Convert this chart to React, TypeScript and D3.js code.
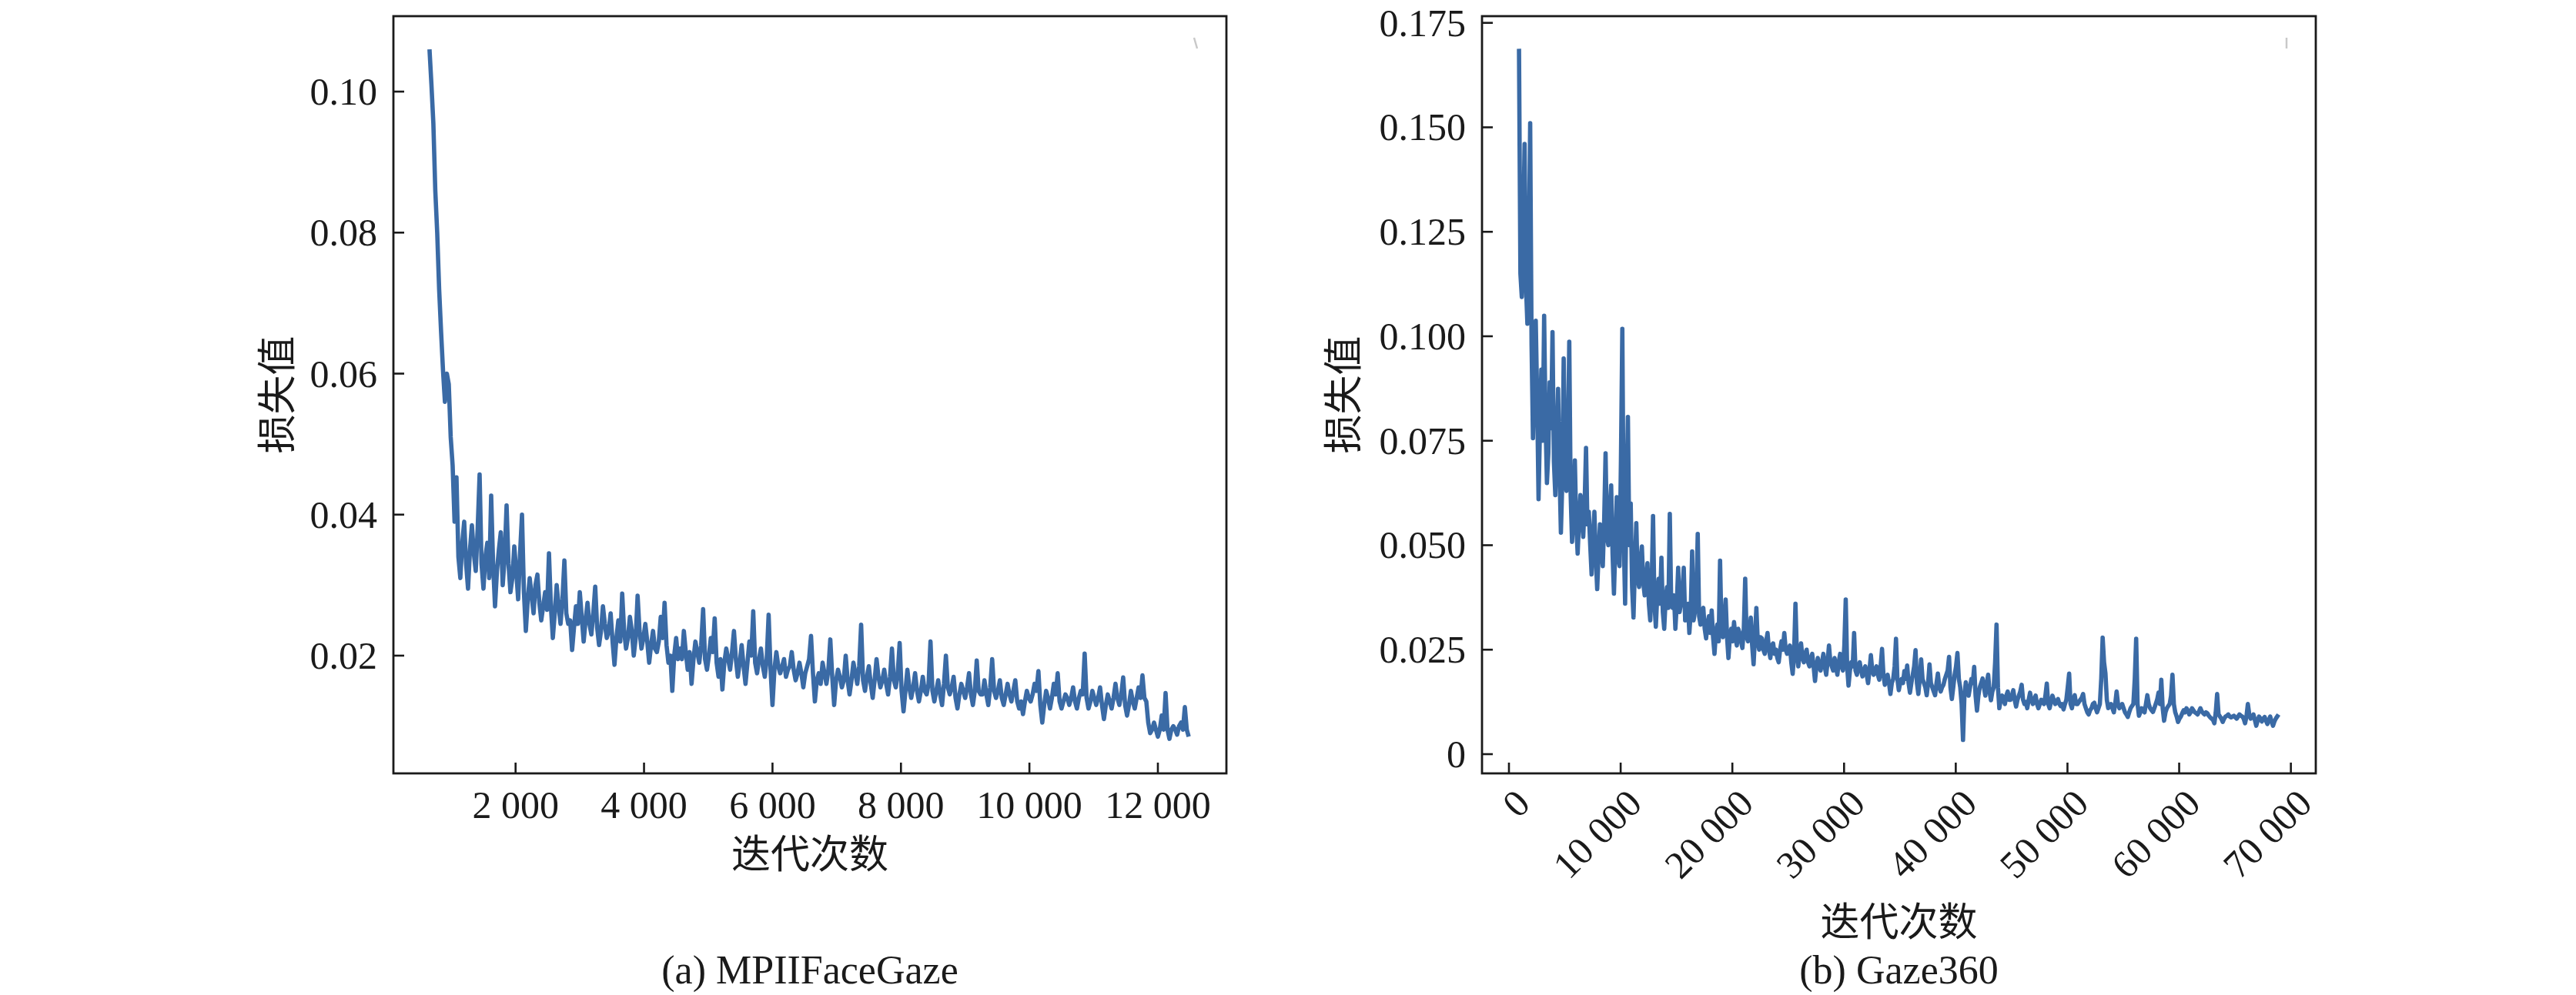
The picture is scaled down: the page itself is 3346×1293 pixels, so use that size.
import React from "react";
import * as d3 from "d3";

// ---------- DATA ----------
// (a) MPIIFaceGaze: loss recorded every 30 iterations starting at iteration 660
const mpiiStart = 660;
const mpiiStep = 30;
const mpiiLoss = [
  0.106, 0.101, 0.0955, 0.086, 0.080, 0.072, 0.066, 0.0605, 0.056, 0.060, 0.0585, 0.051, 0.047,
  0.039, 0.0453, 0.034, 0.031, 0.036, 0.039, 0.033, 0.0295, 0.035, 0.0385, 0.0345, 0.032, 0.038, 0.0457, 0.033, 0.0295,
  0.034, 0.036, 0.031, 0.0427, 0.033, 0.027, 0.032, 0.035, 0.0375, 0.030, 0.034, 0.0413, 0.033, 0.029, 0.031, 0.0355,
  0.032, 0.028, 0.0345, 0.040, 0.029, 0.0235,
  0.028, 0.031, 0.0285, 0.026, 0.030, 0.0315, 0.0275, 0.025, 0.027, 0.029, 0.0265, 0.0345, 0.027, 0.0225, 0.026,
  0.030, 0.027, 0.0245, 0.028, 0.0335, 0.026, 0.0245,
  0.025, 0.0208, 0.024, 0.027, 0.0245, 0.029, 0.0255, 0.022, 0.025, 0.0275, 0.0245, 0.023, 0.026, 0.0298, 0.024,
  0.0215, 0.0235, 0.027, 0.0245, 0.0225, 0.0235, 0.026, 0.022, 0.0187, 0.0225, 0.025, 0.022, 0.0288, 0.0235, 0.021,
  0.0225, 0.0255, 0.0235, 0.020, 0.0225, 0.0285, 0.0235, 0.021, 0.0225, 0.0245, 0.022, 0.019, 0.0215, 0.0235, 0.021,
  0.0205, 0.022, 0.0255, 0.0225, 0.0275, 0.0215, 0.019, 0.020, 0.015, 0.020, 0.0225,
  0.0195, 0.021, 0.0195, 0.0235, 0.0205, 0.018, 0.0205, 0.016, 0.0195, 0.022, 0.0205, 0.019, 0.0215, 0.0266, 0.0195,
  0.018, 0.020, 0.0225, 0.0205, 0.0253, 0.019, 0.017, 0.0195, 0.0152, 0.019, 0.021, 0.0195, 0.018, 0.0205, 0.0235,
  0.0195, 0.017, 0.019, 0.0215, 0.0185, 0.016, 0.019, 0.022, 0.020, 0.0263, 0.019, 0.0175, 0.0195, 0.021, 0.0185,
  0.017, 0.0195, 0.0258, 0.018, 0.013, 0.018, 0.0205, 0.0185, 0.0175,
  0.0185, 0.0195, 0.017, 0.018, 0.0185, 0.0205, 0.018, 0.0165, 0.0175, 0.019, 0.0175, 0.0155, 0.0175, 0.0185, 0.0195,
  0.0228, 0.0175, 0.0135, 0.0165, 0.0175,
  0.016, 0.019, 0.0175, 0.016, 0.018, 0.0223, 0.017, 0.013, 0.0165, 0.018, 0.017, 0.0155, 0.0165, 0.020, 0.0165,
  0.0145, 0.0165, 0.019, 0.0175, 0.016, 0.0185, 0.0244, 0.0165, 0.015, 0.017, 0.0185, 0.016, 0.014, 0.0165, 0.0195,
  0.017, 0.0155, 0.0165, 0.018, 0.016, 0.0145, 0.017, 0.021, 0.0165, 0.0155, 0.0175, 0.0218, 0.015, 0.0121, 0.015,
  0.018, 0.0155, 0.014, 0.0155, 0.0175, 0.015, 0.0135,
  0.015, 0.017, 0.015, 0.0145, 0.016, 0.022, 0.015, 0.0135, 0.015, 0.0165, 0.0145, 0.013, 0.016, 0.020, 0.0155,
  0.0145, 0.0155, 0.017, 0.014, 0.0125, 0.0145, 0.016, 0.015, 0.014, 0.0155, 0.0175, 0.0145, 0.013, 0.015, 0.0193,
  0.015, 0.0145, 0.0145, 0.0165, 0.0145, 0.013, 0.0155, 0.0195, 0.015, 0.014, 0.015, 0.0165, 0.014, 0.013, 0.0145,
  0.016, 0.0145, 0.0135, 0.015, 0.0165, 0.0135, 0.0125,
  0.0135, 0.0117, 0.0135, 0.015, 0.014, 0.0135, 0.0145, 0.016, 0.015, 0.0178, 0.013, 0.0105, 0.013, 0.015, 0.014,
  0.0125, 0.014, 0.016, 0.0145, 0.0175, 0.0135, 0.0125, 0.0135, 0.0145, 0.014, 0.013, 0.014, 0.0155, 0.0135, 0.0125,
  0.014, 0.015, 0.0145, 0.0203, 0.014, 0.0125, 0.0135, 0.015, 0.014, 0.013, 0.014, 0.0155, 0.013, 0.011, 0.013,
  0.0145, 0.0135, 0.0125, 0.014, 0.016, 0.014, 0.013, 0.0145, 0.0169, 0.013, 0.0115, 0.013, 0.015, 0.0135, 0.0125,
  0.014, 0.0155, 0.014, 0.0172,
  0.014, 0.0135, 0.0105, 0.009, 0.0095, 0.0105, 0.0095, 0.0085, 0.0095, 0.0115, 0.0095, 0.0147, 0.0095, 0.0082,
  0.0095, 0.010, 0.0095, 0.0088, 0.010, 0.0105, 0.0095, 0.0127, 0.0095, 0.0085,
];

// (b) Gaze360: loss recorded every 125 iterations starting at iteration 900 (8 values per 1000 iterations)
const gazeStart = 900;
const gazeStep = 125;
const gazeLoss = [
  0.1688, 0.115, 0.1094, 0.125, 0.146, 0.112, 0.103, 0.118,      // 900
  0.151, 0.098, 0.0756, 0.090, 0.1037, 0.085, 0.061, 0.078,      // 1900
  0.092, 0.075, 0.1049, 0.080, 0.0649, 0.072, 0.089, 0.078,      // 2900
  0.101, 0.070, 0.062, 0.075, 0.0874, 0.068, 0.053, 0.065,       // 3900
  0.0947, 0.070, 0.063, 0.072, 0.0987, 0.062, 0.0508, 0.058,     // 4900
  0.0703, 0.055, 0.048, 0.056, 0.062, 0.057, 0.052, 0.060,       // 5900
  0.0733, 0.055, 0.058, 0.050, 0.043, 0.052, 0.058, 0.047,       // 6900
  0.0395, 0.048, 0.055, 0.049, 0.045, 0.056, 0.072, 0.052,       // 7900
  0.050, 0.058, 0.0643, 0.048, 0.0384, 0.050, 0.0615, 0.047,     // 8900
  0.045, 0.070, 0.1018, 0.052, 0.036, 0.062, 0.0807, 0.050,      // 9900
  0.060, 0.040, 0.0327, 0.045, 0.0553, 0.042, 0.040, 0.046,      // 10900
  0.0497, 0.041, 0.038, 0.042, 0.0457, 0.036, 0.032, 0.040,      // 11900
  0.057, 0.036, 0.0305, 0.038, 0.042, 0.036, 0.047, 0.034,       // 12900
  0.030, 0.037, 0.040, 0.035, 0.0575, 0.036, 0.035, 0.038,       // 13900
  0.030, 0.036, 0.0446, 0.034, 0.036, 0.039, 0.0446, 0.032,      // 14900
  0.033, 0.036, 0.029, 0.034, 0.0485, 0.032, 0.034, 0.037,       // 15900
  0.0527, 0.033, 0.031, 0.034, 0.035, 0.030, 0.0277, 0.031,      // 16900
  0.033, 0.029, 0.0344, 0.028, 0.024, 0.029, 0.031, 0.027,       // 17900
  0.0463, 0.030, 0.028, 0.032, 0.037, 0.028, 0.023, 0.028,       // 18900
  0.030, 0.027, 0.0316, 0.028, 0.026, 0.030, 0.029, 0.027,       // 19900
  0.0254, 0.030, 0.042, 0.028, 0.027, 0.029, 0.0327, 0.026,      // 20900
  0.0215, 0.028, 0.035, 0.027, 0.025, 0.028, 0.0277, 0.025,      // 21900
  0.024, 0.027, 0.029, 0.025, 0.023, 0.026, 0.0265, 0.024,       // 22900
  0.025, 0.023, 0.022, 0.025, 0.027, 0.025, 0.029, 0.025,        // 23900
  0.024, 0.025, 0.026, 0.022, 0.0192, 0.024, 0.036, 0.024,       // 24900
  0.021, 0.024, 0.0265, 0.023, 0.022, 0.024, 0.025, 0.022,       // 25900
  0.021, 0.023, 0.024, 0.021, 0.0175, 0.021, 0.023, 0.021,       // 26900
  0.020, 0.022, 0.024, 0.021, 0.019, 0.022, 0.026, 0.022,        // 27900
  0.021, 0.020, 0.023, 0.021, 0.019, 0.022, 0.024, 0.021,        // 28900
  0.020, 0.026, 0.037, 0.021, 0.0164, 0.020, 0.022, 0.021,       // 29900
  0.029, 0.020, 0.019, 0.021, 0.022, 0.020, 0.0186, 0.020,       // 30900
  0.021, 0.019, 0.017, 0.020, 0.0237, 0.020, 0.019, 0.020,       // 31900
  0.021, 0.019, 0.0178, 0.021, 0.0252, 0.019, 0.0166, 0.018,     // 32900
  0.019, 0.017, 0.0144, 0.017, 0.018, 0.021, 0.0276, 0.018,      // 33900
  0.0153, 0.017, 0.018, 0.017, 0.0199, 0.018, 0.0212, 0.017,     // 34900
  0.0147, 0.017, 0.019, 0.021, 0.0249, 0.017, 0.0144, 0.018,     // 35900
  0.0227, 0.018, 0.017, 0.016, 0.0141, 0.017, 0.0215, 0.017,     // 36900
  0.016, 0.015, 0.0141, 0.017, 0.0193, 0.016, 0.015, 0.016,      // 37900
  0.0166, 0.018, 0.019, 0.020, 0.0233, 0.016, 0.0132, 0.016,     // 38900
  0.019, 0.021, 0.0242, 0.018, 0.016, 0.012, 0.0034, 0.014,      // 39900
  0.0172, 0.015, 0.014, 0.016, 0.018, 0.017, 0.0209, 0.014,      // 40900
  0.0104, 0.014, 0.016, 0.017, 0.0181, 0.016, 0.014, 0.017,      // 41900
  0.019, 0.015, 0.0129, 0.015, 0.016, 0.022, 0.031, 0.016,       // 42900
  0.011, 0.013, 0.014, 0.013, 0.012, 0.014, 0.015, 0.013,        // 43900
  0.013, 0.014, 0.0153, 0.013, 0.0114, 0.013, 0.014, 0.015,      // 44900
  0.0166, 0.013, 0.012, 0.0125, 0.011, 0.013, 0.0147, 0.013,     // 45900
  0.012, 0.013, 0.014, 0.012, 0.011, 0.012, 0.013, 0.0125,       // 46900
  0.012, 0.014, 0.0169, 0.012, 0.011, 0.0125, 0.014, 0.013,      // 47900
  0.012, 0.0125, 0.0132, 0.012, 0.0115, 0.012, 0.0107, 0.012,    // 48900
  0.013, 0.016, 0.0193, 0.012, 0.011, 0.013, 0.0141, 0.012,      // 49900
  0.012, 0.0125, 0.013, 0.0135, 0.0144, 0.012, 0.011, 0.010,     // 50900
  0.0095, 0.0105, 0.011, 0.012, 0.0123, 0.011, 0.010, 0.011,     // 51900
  0.012, 0.018, 0.0279, 0.022, 0.0193, 0.013, 0.011, 0.0115,     // 52900
  0.012, 0.011, 0.010, 0.012, 0.015, 0.012, 0.011, 0.0115,       // 53900
  0.012, 0.011, 0.010, 0.0095, 0.0089, 0.010, 0.011, 0.0115,     // 54900
  0.012, 0.018, 0.0276, 0.012, 0.0092, 0.010, 0.011, 0.0105,     // 55900
  0.010, 0.012, 0.0141, 0.012, 0.011, 0.0105, 0.0101, 0.011,     // 56900
  0.012, 0.013, 0.0147, 0.012, 0.0178, 0.011, 0.008, 0.010,      // 57900
  0.011, 0.0115, 0.012, 0.014, 0.019, 0.012, 0.010, 0.009,       // 58900
  0.0077, 0.0085, 0.009, 0.0098, 0.0105, 0.010, 0.011, 0.0105,   // 59900
  0.0095, 0.010, 0.011, 0.0105, 0.010, 0.0098, 0.0095, 0.0102,   // 60900
  0.011, 0.0102, 0.0098, 0.0095, 0.010, 0.0098, 0.0092, 0.0088,  // 61900
  0.0085, 0.0082, 0.0074, 0.010, 0.0144, 0.0095, 0.009, 0.0085,  // 62900
  0.0077, 0.0085, 0.009, 0.0092, 0.0095, 0.009, 0.0088, 0.009,   // 63900
  0.0092, 0.0088, 0.0085, 0.009, 0.0095, 0.0092, 0.009, 0.0085,  // 64900
  0.0074, 0.009, 0.012, 0.0095, 0.0085, 0.009, 0.0095, 0.0082,   // 65900
  0.0068, 0.008, 0.009, 0.0085, 0.0078, 0.0085, 0.0089, 0.008,   // 66900
  0.0072, 0.0082, 0.009, 0.0078, 0.0068, 0.0078, 0.0085, 0.009,  // 67900
  0.0095,                                                        // 68900
];

const mpiiXTicks = [2000, 4000, 6000, 8000, 10000, 12000];
const mpiiYTicks = [0.02, 0.04, 0.06, 0.08, 0.1];
const gazeXTicks = [0, 10000, 20000, 30000, 40000, 50000, 60000, 70000];
const gazeYTicks = [0, 0.025, 0.05, 0.075, 0.1, 0.125, 0.15, 0.175];

const yLabel = "损失值";
const xLabel = "迭代次数";
const captionA = "(a) MPIIFaceGaze";
const captionB = "(b) Gaze360";

// ---------- STYLE ----------
const W = 3346;
const H = 1293;
const LINE = "#3a6aa5";
const INK = "#1a1a1a";
const SERIF = "'Liberation Serif', 'Times New Roman', 'Noto Sans CJK SC', serif";
const CJK = "'Noto Sans CJK SC', 'Liberation Serif', sans-serif";
const TICK_FS = 50;
const LABEL_FS = 51;
const TICK_LEN = 14;

const fmtThousands = d3.formatLocale({ decimal: ".", thousands: " ", grouping: [3], currency: ["", ""] }).format(",");

type PanelProps = {
  left: number;
  right: number;
  top: number;
  bottom: number;
  xDomain: [number, number];
  yDomain: [number, number];
  start: number;
  step: number;
  values: number[];
  xTicks: number[];
  yTicks: number[];
  yFmt: (v: number) => string;
  rotateX: boolean;
  caption: string;
  xLabelY: number;
  yLabelX: number;
  markSlant: number;
};

function Panel(p: PanelProps) {
  const x = d3.scaleLinear().domain(p.xDomain).range([p.left, p.right]);
  const y = d3.scaleLinear().domain(p.yDomain).range([p.bottom, p.top]);
  const pts: [number, number][] = p.values.map((v, i) => [p.start + i * p.step, v]);
  const line = d3
    .line<[number, number]>()
    .x((d) => x(d[0]))
    .y((d) => y(d[1]));
  const cx = (p.left + p.right) / 2;
  const cy = (p.top + p.bottom) / 2;
  return (
    <g>
      <path d={line(pts) || ""} fill="none" stroke={LINE} strokeWidth={5.6} strokeLinejoin="round" strokeLinecap="butt" />
      {/* faint legend remnant */}
      <line
        x1={p.right - 38 - p.markSlant}
        y1={p.top + 28}
        x2={p.right - 38}
        y2={p.top + 42}
        stroke="#c9c9c9"
        strokeWidth={2.5}
      />
      <rect x={p.left} y={p.top} width={p.right - p.left} height={p.bottom - p.top} fill="none" stroke={INK} strokeWidth={2.8} />
      {p.xTicks.map((t) => (
        <g key={"x" + t}>
          <line x1={x(t)} x2={x(t)} y1={p.bottom} y2={p.bottom - TICK_LEN} stroke={INK} strokeWidth={2.6} />
          {p.rotateX ? (
            <text
              transform={`translate(${x(t) + 18},${p.bottom + 30}) rotate(-45)`}
              textAnchor="end"
              dominantBaseline="central"
              fontFamily={SERIF}
              fontSize={TICK_FS}
              fill={INK}
            >
              {fmtThousands(t)}
            </text>
          ) : (
            <text x={x(t)} y={p.bottom + 58} textAnchor="middle" fontFamily={SERIF} fontSize={TICK_FS} fill={INK}>
              {fmtThousands(t)}
            </text>
          )}
        </g>
      ))}
      {p.yTicks.map((t) => (
        <g key={"y" + t}>
          <line x1={p.left} x2={p.left + TICK_LEN} y1={y(t)} y2={y(t)} stroke={INK} strokeWidth={2.6} />
          <text
            x={p.left - 21}
            y={y(t)}
            textAnchor="end"
            dominantBaseline="central"
            fontFamily={SERIF}
            fontSize={TICK_FS}
            fill={INK}
          >
            {p.yFmt(t)}
          </text>
        </g>
      ))}
      <text
        transform={`translate(${p.yLabelX},${cy}) rotate(-90)`}
        textAnchor="middle"
        dominantBaseline="central"
        fontFamily={CJK}
        fontSize={LABEL_FS}
        fill={INK}
      >
        {yLabel}
      </text>
      <text x={cx} y={p.xLabelY} textAnchor="middle" dominantBaseline="central" fontFamily={CJK} fontSize={LABEL_FS} fill={INK}>
        {xLabel}
      </text>
      <text x={cx} y={1278} textAnchor="middle" fontFamily={SERIF} fontSize={52} fill={INK}>
        {p.caption}
      </text>
    </g>
  );
}

export default function App() {
  return (
    <svg
      width={W}
      height={H}
      viewBox={`0 0 ${W} ${H}`}
      style={{ position: "absolute", left: 0, top: 0, background: "#ffffff" }}
    >
      <rect x={0} y={0} width={W} height={H} fill="#ffffff" />
      <Panel
        left={511}
        right={1593}
        top={21}
        bottom={1005}
        xDomain={[98, 13067]}
        yDomain={[0.0033, 0.1107]}
        start={mpiiStart}
        step={mpiiStep}
        values={mpiiLoss}
        xTicks={mpiiXTicks}
        yTicks={mpiiYTicks}
        yFmt={d3.format(".2f")}
        rotateX={false}
        caption={captionA}
        xLabelY={1106}
        yLabelX={356}
        markSlant={4}
      />
      <Panel
        left={1925}
        right={3008}
        top={21}
        bottom={1005}
        xDomain={[-2412, 72230]}
        yDomain={[-0.0046, 0.1766]}
        start={gazeStart}
        step={gazeStep}
        values={gazeLoss}
        xTicks={gazeXTicks}
        yTicks={gazeYTicks}
        yFmt={(v) => (v === 0 ? "0" : d3.format(".3f")(v))}
        rotateX={true}
        caption={captionB}
        xLabelY={1194}
        yLabelX={1741}
        markSlant={0}
      />
    </svg>
  );
}
